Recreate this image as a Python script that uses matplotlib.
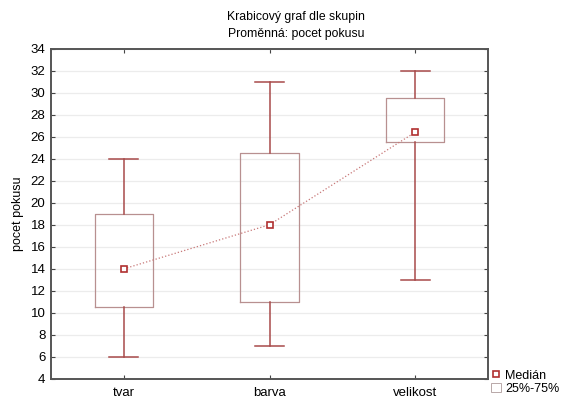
import matplotlib
matplotlib.use('Agg')
import matplotlib.pyplot as plt
from matplotlib.lines import Line2D
from matplotlib.patches import Patch

plt.rcParams['font.family'] = ['Liberation Sans', 'DejaVu Sans']

groups = ['tvar', 'barva', 'velikost']
medians = [14, 18, 26.4]
q1 = [10.5, 11, 25.5]
q3 = [19, 24.5, 29.5]
whis_lo = [6, 7, 13]
whis_hi = [24, 31, 32]
yticks = list(range(4, 35, 2))

stats = []
for i in range(len(groups)):
    stats.append({'med': medians[i], 'q1': q1[i], 'q3': q3[i],
                  'whislo': whis_lo[i], 'whishi': whis_hi[i], 'label': groups[i]})

fig = plt.figure(figsize=(5.65, 4.01), dpi=100)
ax = fig.add_axes([0.0903, 0.0549, 0.7734, 0.8241])

box_col = '#b89090'
whis_col = '#a84a4a'
ax.bxp(stats, positions=range(len(groups)), widths=0.4, showfliers=False,
       boxprops=dict(color=box_col, linewidth=0.9),
       whiskerprops=dict(color=whis_col, linewidth=1.1),
       capprops=dict(color=whis_col, linewidth=1.1),
       medianprops=dict(linewidth=0), capwidths=0.2, zorder=3)

ax.plot(range(len(groups)), medians, linestyle=':', color='#c87878', linewidth=0.9,
        marker='s', markersize=5, markerfacecolor='white', markeredgecolor='#b03030',
        markeredgewidth=1.2, zorder=4)

ax.set_xlim(-0.5, 2.5)
ax.set_ylim(4, 34)
ax.set_yticks(yticks)
ax.set_xticks(range(len(groups)))
ax.set_xticklabels(groups)
ax.yaxis.grid(True, color='#ececec', linewidth=0.9)
ax.set_axisbelow(True)
ax.tick_params(direction='in', top=True, right=True, length=3, labelsize=9.5,
               color='#444444', width=0.8, pad=4)
ax.tick_params(axis='x', pad=6)
for s in ax.spines.values():
    s.set_color('#555555')
    s.set_linewidth(1.4)
ax.set_ylabel('pocet pokusu', fontsize=9, labelpad=5)

fig.text(0.524, 0.958, 'Krabicový graf dle skupin', ha='center', va='center', fontsize=8.8)
fig.text(0.524, 0.915, 'Proměnná: pocet pokusu', ha='center', va='center', fontsize=8.8)

handles = [Line2D([], [], linestyle='none', marker='s', markersize=5, markerfacecolor='white',
                  markeredgecolor='#b03030', markeredgewidth=1.2),
           Patch(facecolor='white', edgecolor='#b8a8a8', linewidth=0.7)]
fig.legend(handles, ['Medián', '25%-75%'], loc='lower left', bbox_to_anchor=(0.852, -0.01),
           frameon=False, fontsize=9, handlelength=0.8, handleheight=0.8,
           handletextpad=0.3, labelspacing=0.1, borderpad=0.3)

fig.savefig('out.png', dpi=100)
